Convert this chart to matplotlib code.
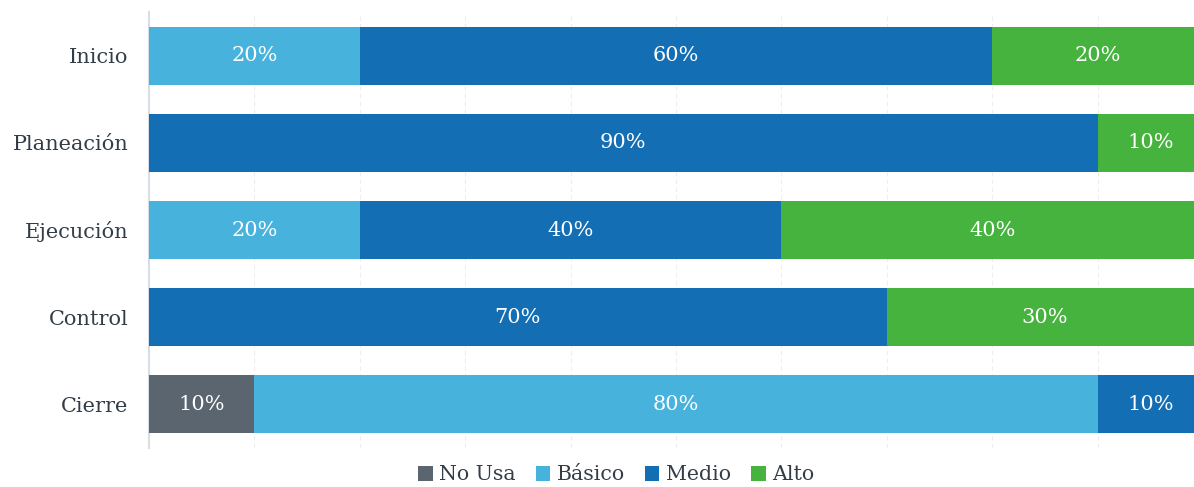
import matplotlib
matplotlib.use("Agg")
import matplotlib.pyplot as plt
from matplotlib.patches import Patch
import numpy as np

categories = ["Inicio", "Planeación", "Ejecución", "Control", "Cierre"]
series_names = ["No Usa", "Básico", "Medio", "Alto"]
no_usa = [0, 0, 0, 0, 10]
basico = [20, 0, 20, 0, 80]
medio = [60, 90, 40, 70, 10]
alto = [20, 10, 40, 30, 0]
colors = ["#5a6570", "#47b3dd", "#146eb4", "#47b33f"]

plt.rcParams['font.family'] = ['DejaVu Serif']
text_color = "#333d47"

fig = plt.figure(figsize=(11.94, 4.87), dpi=100)
ax = fig.add_axes([149/1194, 39/487, 1054/1194, (448-12)/487])

y = np.arange(len(categories))
left = np.zeros(len(categories))
for vals, name, c in zip([no_usa, basico, medio, alto], series_names, colors):
    vals = np.array(vals, dtype=float)
    ax.barh(y, vals, left=left, height=0.665, color=c, edgecolor='none', zorder=3)
    for yi, v, l in zip(y, vals, left):
        if v > 0:
            ax.text(l + v/2, yi, f"{int(v)}%", ha='center', va='center',
                    color='white', fontsize=15, zorder=4)
    left += vals

ax.set_xlim(0, 100)
ax.set_ylim(len(categories) - 0.5, -0.5)
ax.set_yticks(y)
ax.set_yticklabels(categories, fontsize=15, color=text_color)
ax.tick_params(axis='y', length=0, pad=15)
ax.set_xticks(np.arange(0, 101, 10))
ax.tick_params(axis='x', length=0, labelbottom=False)
ax.grid(axis='x', color='#eeeeee', linestyle=(0, (4, 3)), linewidth=0.8, zorder=0)
ax.grid(axis='y', visible=False)
for s in ['top', 'right', 'bottom']:
    ax.spines[s].set_visible(False)
ax.spines['left'].set_color('#d8dee8')
ax.spines['left'].set_linewidth(1.5)

handles = [Patch(facecolor=c, edgecolor='none') for c in colors]
fig.legend(handles, series_names, loc='center', bbox_to_anchor=(616/1194, 1 - 475/487),
           ncol=4, frameon=False, fontsize=14.8, handlelength=0.7, handleheight=0.7,
           handletextpad=0.3, columnspacing=1.0, labelcolor=text_color)

fig.savefig("out.png", dpi=100)
